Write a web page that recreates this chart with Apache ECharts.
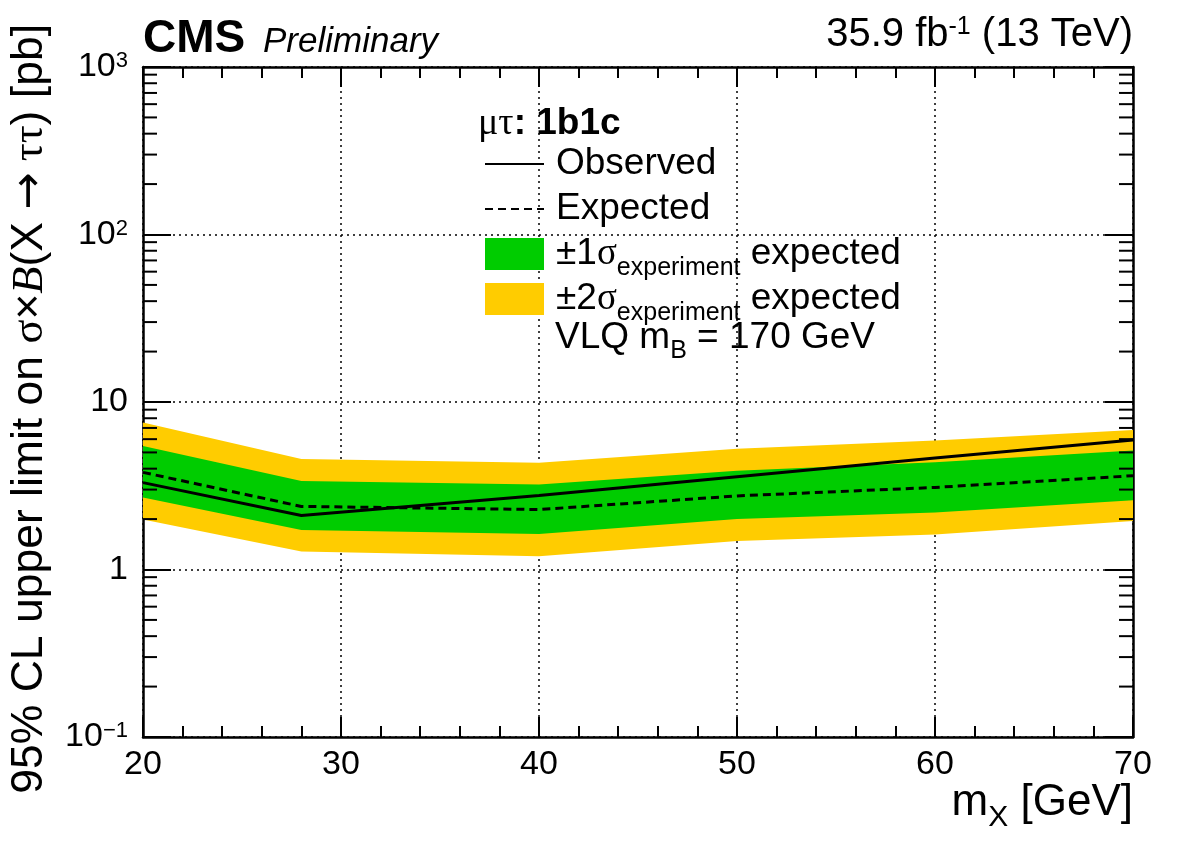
<!DOCTYPE html>
<html>
<head>
<meta charset="utf-8">
<script src="https://cdn.jsdelivr.net/npm/echarts@6/dist/echarts.min.js"></script>
<style>
  html, body { margin: 0; padding: 0; background: #fff; }
  #chart { width: 1182px; height: 848px; }
</style>
</head>
<body>
<div id="chart"></div>
<script>
// mass points [GeV] and limits [pb]
const massPoints = [20, 28, 40, 50, 60, 70];
const observed = [3.30, 2.10, 2.77, 3.58, 4.63, 5.94];
const expected = [3.80, 2.38, 2.28, 2.75, 3.09, 3.63];
const oneSigmaUp = [5.46, 3.38, 3.22, 3.89, 4.37, 5.13];
const oneSigmaDown = [2.69, 1.72, 1.63, 2.00, 2.19, 2.59];
const twoSigmaUp = [7.54, 4.57, 4.34, 5.25, 5.89, 6.80];
const twoSigmaDown = [1.99, 1.28, 1.20, 1.48, 1.62, 1.95];

// log-axis minor tick positions
const yMinorTicks = [0.2, 0.3, 0.4, 0.5, 0.6, 0.7, 0.8, 0.9,
  2, 3, 4, 5, 6, 7, 8, 9,
  20, 30, 40, 50, 60, 70, 80, 90,
  200, 300, 400, 500, 600, 700, 800, 900];

const SANS = '"Liberation Sans", Arial, Helvetica, sans-serif';
const SERIF = '"Liberation Serif", "DejaVu Serif", serif';

const chart = echarts.init(document.getElementById('chart'));

function band(name, up, down, color) {
  return {
    name: name,
    type: 'custom',
    silent: true,
    z: 1,
    itemStyle: { color: color },
    data: massPoints.map((m, i) => [m, up[i], down[i]]),
    encode: { x: 0, y: [1, 2] },
    renderItem: function (params, api) {
      if (params.dataIndex !== 0) return null;
      let top = massPoints.map((m, i) => api.coord([m, up[i]]));
      let bot = massPoints.map((m, i) => api.coord([m, down[i]])).reverse();
      return {
        type: 'polygon',
        shape: { points: top.concat(bot) },
        style: { fill: color }
      };
    }
  };
}

function expLabel(v) {
  let e = Math.round(Math.log10(v));
  if (e === 0) return '{b|1}';
  if (e === 1) return '{b|10}';
  return '{b|10}{s|' + (e < 0 ? '\u2212' + (-e) : e) + '}';
}

const xAxisBase = {
  type: 'value',
  min: 20,
  max: 70,
  interval: 10,
  axisLine: { onZero: false, lineStyle: { color: '#000', width: 2.5 } },
  axisTick: { inside: true, length: 20, lineStyle: { color: '#000', width: 2 } },
  minorTick: { show: true, splitNumber: 5, length: 11, lineStyle: { color: '#000', width: 2 } }
};

const yAxisBase = {
  type: 'log',
  logBase: 10,
  min: 0.1,
  max: 1000,
  axisLine: { onZero: false, lineStyle: { color: '#000', width: 2.5 } },
  axisTick: { inside: true, length: 28, lineStyle: { color: '#000', width: 2 } },
  minorTick: { show: false }
};

const legendNames = {
  's1': '{n|\u00b11}{g|\u03c3}{sub|experiment}{n| expected}',
  's2': '{n|\u00b12}{g|\u03c3}{sub|experiment}{n| expected}'
};

// subscript: pushed down by top padding; all lines get the same tall line box
const subStyle = { fontSize: 25, lineHeight: 1, padding: [28, 0, 0, 0], fontFamily: SANS, color: '#000' };
const LH = 60;

chart.setOption({
  animation: false,
  backgroundColor: '#fff',
  grid: { left: 143, right: 49, top: 67, bottom: 111 },
  xAxis: [
    Object.assign({}, xAxisBase, {
      position: 'bottom',
      splitLine: { show: true, lineStyle: { color: '#000', width: 1.5, type: [2, 4] } },
      axisLabel: { color: '#000', fontSize: 34, fontFamily: SANS, margin: 11 }
    }),
    Object.assign({}, xAxisBase, {
      position: 'top',
      splitLine: { show: false },
      axisLabel: { show: false }
    })
  ],
  yAxis: [
    Object.assign({}, yAxisBase, {
      position: 'left',
      splitLine: { show: true, lineStyle: { color: '#000', width: 1.5, type: [2, 4] } },
      axisLabel: {
        color: '#000', fontFamily: SANS, margin: 15,
        formatter: expLabel,
        rich: {
          b: { fontSize: 34, lineHeight: 34, fontFamily: SANS, color: '#000' },
          s: { fontSize: 22, lineHeight: 12, verticalAlign: 'top', fontFamily: SANS, color: '#000' }
        }
      }
    }),
    Object.assign({}, yAxisBase, {
      position: 'right',
      splitLine: { show: false },
      axisLabel: { show: false }
    })
  ],
  legend: {
    left: 484,
    top: 134,
    padding: 0,
    orient: 'vertical',
    itemWidth: 59,
    itemHeight: 32,
    itemGap: -15,
    selectedMode: false,
    data: [
      { name: 'Observed', itemStyle: { opacity: 0 } },
      { name: 'Expected', itemStyle: { opacity: 0 } },
      { name: 's1', icon: 'rect' },
      { name: 's2', icon: 'rect' }
    ],
    formatter: function (name) {
      return legendNames[name] || ('{n|' + name + '}');
    },
    textStyle: {
      color: '#000', fontSize: 37, fontFamily: SANS, lineHeight: LH,
      padding: [0, 0, 0, 7],
      rich: {
        n: { fontSize: 37, lineHeight: LH, fontFamily: SANS, color: '#000' },
        g: { fontSize: 37, lineHeight: LH, fontFamily: SERIF, color: '#000' },
        sub: subStyle
      }
    }
  },
  graphic: [
    {
      type: 'text', left: 143, top: 16,
      style: { text: 'CMS', font: 'bold 46px ' + SANS, fill: '#000' }
    },
    {
      type: 'text', left: 263, top: 25,
      style: { text: 'Preliminary', font: 'italic 35px ' + SANS, fill: '#000' }
    },
    {
      type: 'text', right: 49, top: 15,
      style: {
        text: '{n|35.9 fb}{s|-1}{n| (13 TeV)}', fill: '#000',
        rich: {
          n: { fontSize: 40, lineHeight: 40, fontFamily: SANS },
          s: { fontSize: 25, lineHeight: 12, verticalAlign: 'top', fontFamily: SANS }
        }
      }
    },
    {
      type: 'text', left: 478, top: 105,
      style: {
        text: '{g|\u03bc\u03c4}{b|: 1b1c}', fill: '#000',
        rich: {
          g: { fontSize: 38, lineHeight: 38, fontFamily: SERIF },
          b: { fontSize: 37, lineHeight: 38, fontFamily: SANS, fontWeight: 'bold' }
        }
      }
    },
    {
      type: 'text', left: 555, top: 311,
      style: {
        text: '{n|VLQ m}{sub|B}{n| = 170 GeV}', fill: '#000',
        rich: {
          n: { fontSize: 37, lineHeight: LH, fontFamily: SANS },
          sub: subStyle
        }
      }
    },
    {
      type: 'text', right: 49, top: 773,
      style: {
        text: '{n|m}{sub|X}{n| [GeV]}', fill: '#000',
        rich: {
          n: { fontSize: 44, lineHeight: 70, fontFamily: SANS },
          sub: { fontSize: 30, lineHeight: 1, padding: [30, 0, 0, 0], fontFamily: SANS }
        }
      }
    },
    {
      type: 'text', x: 30, y: 24, rotation: Math.PI / 2,
      style: {
        text: '{n|95% CL upper limit on }{g|\u03c3}{n|\u00d7}{c|B}{n|(X }{a|\u2192}{g| \u03c4\u03c4}{n|) [pb]}',
        fill: '#000', align: 'right', verticalAlign: 'middle',
        rich: {
          n: { fontSize: 44.5, lineHeight: 44, fontFamily: SANS },
          a: { fontSize: 44.5, lineHeight: 44, fontFamily: '"DejaVu Sans", sans-serif' },
          g: { fontSize: 44.5, lineHeight: 44, fontFamily: SERIF },
          c: { fontSize: 44.5, lineHeight: 44, fontFamily: SERIF, fontStyle: 'italic' }
        }
      }
    }
  ],
  series: [
    band('s2', twoSigmaUp, twoSigmaDown, '#ffcc00'),
    band('s1', oneSigmaUp, oneSigmaDown, '#00cc00'),
    {
      name: 'Expected',
      type: 'line',
      z: 3,
      symbol: 'none',
      silent: true,
      data: massPoints.map((m, i) => [m, expected[i]]),
      lineStyle: { color: '#000', width: 3, type: [8, 5] },
      itemStyle: { color: '#000' }
    },
    {
      name: 'Observed',
      type: 'line',
      z: 4,
      symbol: 'none',
      silent: true,
      data: massPoints.map((m, i) => [m, observed[i]]),
      lineStyle: { color: '#000', width: 3 },
      itemStyle: { color: '#000' }
    },
    {
      type: 'custom',
      silent: true,
      z: 5,
      data: yMinorTicks.map(v => [20, v]),
      encode: { x: 0, y: 1 },
      renderItem: function (params, api) {
        let v = api.value(1);
        let l = api.coord([20, v]);
        let r = api.coord([70, v]);
        let st = { stroke: '#000', lineWidth: 2 };
        return {
          type: 'group',
          children: [
            { type: 'line', shape: { x1: l[0], y1: l[1], x2: l[0] + 14, y2: l[1] }, style: st },
            { type: 'line', shape: { x1: r[0] - 14, y1: r[1], x2: r[0], y2: r[1] }, style: st }
          ]
        };
      }
    }
  ]
});
</script>
</body>
</html>
